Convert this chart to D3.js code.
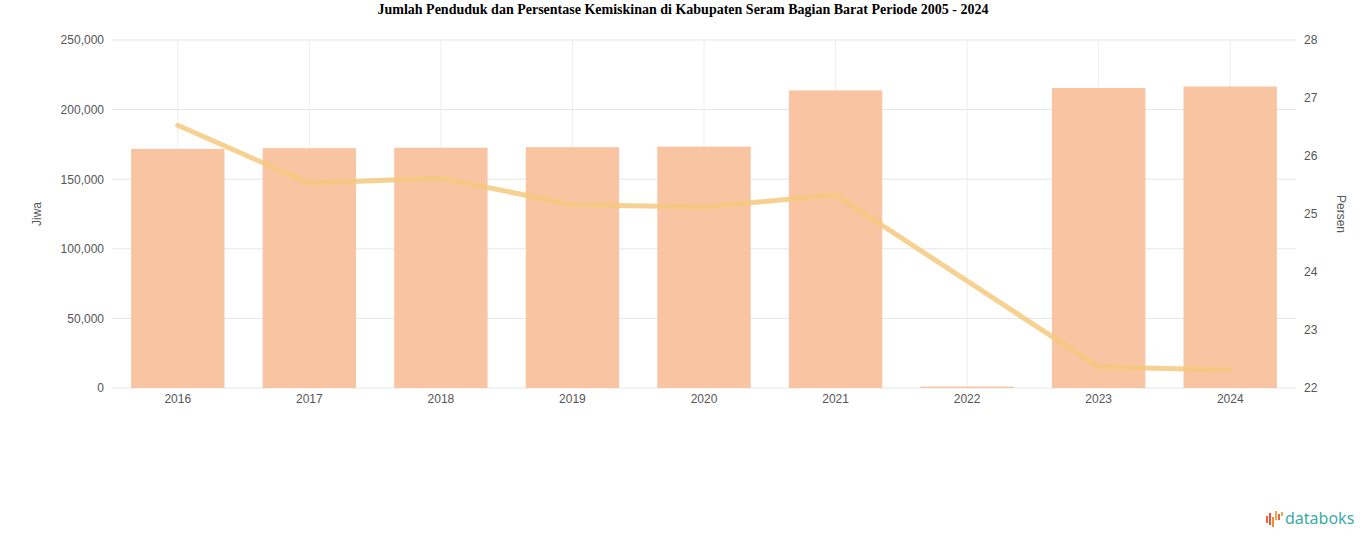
<!DOCTYPE html>
<html><head><meta charset="utf-8">
<script src="https://cdn.jsdelivr.net/npm/d3@7"></script>
<style>body{margin:0;background:#fff;}svg{display:block;}</style>
</head><body>
<svg id="c" width="1366" height="547"></svg>
<script>
const title = "Jumlah Penduduk dan Persentase Kemiskinan di Kabupaten Seram Bagian Barat Periode 2005 - 2024";
const years = ["2016","2017","2018","2019","2020","2021","2022","2023","2024"];
const population = [171800, 172300, 172600, 173000, 173400, 213800, 1000, 215500, 216600];
const poverty = [26.53, 25.53, 25.62, 25.16, 25.12, 25.33, null, 22.36, 22.31];
const leftTicks = [0, 50000, 100000, 150000, 200000, 250000];
const rightTicks = [22, 23, 24, 25, 26, 27, 28];
const leftTitle = "Jiwa";
const rightTitle = "Persen";

const svg = d3.select("#c");
const L = 112, R = 1296, T = 40, B = 388;
const x = d3.scaleBand().domain(years).range([L, R]).paddingInner(0.29).paddingOuter(0.145);
const xc = d => x(d) + x.bandwidth()/2;
const yL = d3.scaleLinear().domain([0, 250000]).range([B, T]);
const yR = d3.scaleLinear().domain([22, 28]).range([B, T]);

svg.append("text").attr("x", 683).attr("y", 14).attr("text-anchor","middle")
  .attr("font-family","'Liberation Serif', 'Times New Roman', serif").attr("font-weight","bold")
  .attr("font-size", 14).attr("fill","#000").text(title);

// grid
svg.append("g").selectAll("line").data(leftTicks).join("line")
  .attr("x1", L).attr("x2", R).attr("y1", d=>yL(d)).attr("y2", d=>yL(d))
  .attr("stroke","#e6e6e6").attr("stroke-width",1);
svg.append("g").selectAll("line").data(years).join("line")
  .attr("x1", d=>xc(d)).attr("x2", d=>xc(d)).attr("y1", T).attr("y2", B)
  .attr("stroke","#eeeeee").attr("stroke-width",1);

// bars
svg.append("g").selectAll("rect").data(years.map((y,i)=>({y, v: population[i]}))).join("rect")
  .attr("x", d=>x(d.y)).attr("width", x.bandwidth())
  .attr("y", d=>yL(d.v)).attr("height", d=>B - yL(d.v))
  .attr("fill","#f8c4a2");

// line
const pts = years.map((y,i)=>({y, v: poverty[i]})).filter(d=>d.v!=null);
svg.append("path").datum(pts)
  .attr("d", d3.line().x(d=>xc(d.y)).y(d=>yR(d.v)))
  .attr("fill","none").attr("stroke","#f4c97f").attr("stroke-width",5)
  .attr("stroke-opacity",0.85).attr("stroke-linejoin","round").attr("stroke-linecap","round");

// axes
const axF = "'Liberation Sans', Arial, sans-serif";
const fmt = d3.format(",");
const gl = svg.append("g").attr("transform",`translate(${L-5},0)`)
  .call(d3.axisLeft(yL).tickValues(leftTicks).tickFormat(fmt).tickSize(0));
gl.select(".domain").remove();
gl.selectAll("text").attr("font-family",axF).attr("font-size",12).attr("fill","#555");

const gr = svg.append("g").attr("transform",`translate(${R+5},0)`)
  .call(d3.axisRight(yR).tickValues(rightTicks).tickFormat(d3.format("d")).tickSize(0));
gr.select(".domain").remove();
gr.selectAll("text").attr("font-family",axF).attr("font-size",12).attr("fill","#555");

const gb = svg.append("g").attr("transform",`translate(0,${B+3})`)
  .call(d3.axisBottom(x).tickSize(0));
gb.select(".domain").remove();
gb.selectAll("text").attr("font-family",axF).attr("font-size",12).attr("fill","#555");

svg.append("text").attr("transform",`translate(41,214) rotate(-90)`).attr("text-anchor","middle")
  .attr("font-family",axF).attr("font-size",12).attr("fill","#555").text(leftTitle);
svg.append("text").attr("transform",`translate(1337,214) rotate(90)`).attr("text-anchor","middle")
  .attr("font-family",axF).attr("font-size",12).attr("fill","#555").text(rightTitle);

// logo
const lg = svg.append("g").attr("transform","translate(1266,511)");
const bars = [[0,5,7,"#f0623e"],[3,2,12,"#ef4f3a"],[6,6,10,"#f58a3c"],[9,0,9,"#f3a541"],[12,3,6,"#f0623e"],[15,1,4,"#f3a541"]];
lg.selectAll("rect").data(bars).join("rect")
  .attr("x",d=>d[0]).attr("y",d=>d[1]).attr("width",2).attr("height",d=>d[2]).attr("fill",d=>d[3]);
svg.append("text").attr("x",1285).attr("y",524).attr("font-family","'Noto Sans', 'Open Sans', sans-serif")
  .attr("font-size",16).attr("fill","#3aaba8").text("databoks");
</script>
</body></html>
